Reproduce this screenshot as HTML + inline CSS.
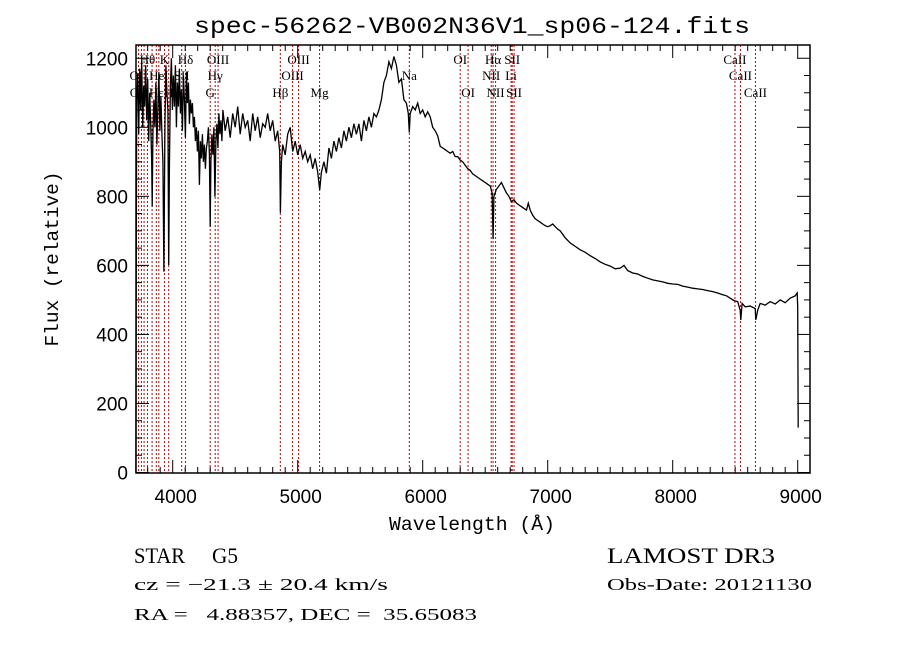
<!DOCTYPE html>
<html><head><meta charset="utf-8"><style>
html,body{margin:0;padding:0;background:#fff;}
svg{display:block;}
text{font-family:"Liberation Sans",sans-serif;fill:#000;}
.serif{font-family:"Liberation Serif",serif;}
.mono{font-family:"Liberation Mono",monospace;}
</style></head><body>
<svg id="chart" width="900" height="649" viewBox="0 0 900 649" xmlns="http://www.w3.org/2000/svg">
<rect width="900" height="649" fill="#fff"/>
<text class="mono" x="472" y="33" font-size="23" text-anchor="middle" textLength="556" lengthAdjust="spacingAndGlyphs">spec-56262-VB002N36V1_sp06-124.fits</text>
<g id="lines"></g>
<g id="labels"></g>
<g id="spec"></g>
<g id="axes"></g>
<text class="mono" x="472" y="530" font-size="19" text-anchor="middle" textLength="166" lengthAdjust="spacingAndGlyphs">Wavelength (Å)</text>
<text class="mono" transform="translate(58,259) rotate(-90)" font-size="19" text-anchor="middle" textLength="175" lengthAdjust="spacingAndGlyphs">Flux (relative)</text>
<text class="serif" x="134" y="563" font-size="22" textLength="51" lengthAdjust="spacingAndGlyphs">STAR</text>
<text class="serif" x="212" y="563" font-size="22" textLength="26" lengthAdjust="spacingAndGlyphs">G5</text>
<text class="serif" x="607" y="563" font-size="22" textLength="168" lengthAdjust="spacingAndGlyphs">LAMOST DR3</text>
<text class="serif" x="134" y="590" font-size="17" textLength="254" lengthAdjust="spacingAndGlyphs">cz = −21.3 ± 20.4 km/s</text>
<text class="serif" x="607" y="590" font-size="17" textLength="205" lengthAdjust="spacingAndGlyphs">Obs-Date: 20121130</text>
<text class="serif" x="134" y="620" font-size="17" textLength="343" lengthAdjust="spacingAndGlyphs" xml:space="preserve">RA =   4.88357, DEC =  35.65083</text>
</svg>
<script>
const wavelengths=[3706,3708,3712,3720,3728,3736,3744,3752,3760,3768,3776,3784,3792,3800,3808,3816,3824,3832,3836,3842,3850,3858,3866,3874,3882,3890,3898,3906,3914,3922,3930,3938,3946,3954,3962,3968,3974,3982,3990,3998,4006,4014,4022,4030,4038,4046,4054,4062,4070,4078,4086,4094,4102,4110,4118,4126,4134,4142,4150,4158,4166,4174,4182,4190,4198,4206,4214,4222,4230,4238,4246,4254,4262,4270,4278,4286,4294,4300,4306,4314,4322,4330,4338,4346,4354,4362,4370,4378,4386,4394,4402,4420,4440,4460,4480,4500,4520,4540,4560,4580,4600,4620,4640,4660,4680,4700,4720,4740,4760,4780,4800,4820,4840,4856,4862,4870,4880,4900,4920,4940,4960,4980,5000,5020,5040,5060,5080,5100,5120,5140,5160,5176,5190,5210,5230,5250,5270,5290,5310,5330,5350,5370,5390,5410,5430,5450,5470,5490,5510,5530,5550,5570,5590,5610,5630,5650,5670,5690,5710,5730,5750,5770,5790,5810,5830,5850,5870,5885,5893,5900,5920,5940,5960,5980,6000,6020,6040,6060,6080,6100,6120,6140,6160,6180,6200,6220,6240,6260,6280,6300,6320,6340,6360,6380,6400,6420,6440,6460,6480,6500,6520,6540,6555,6563,6570,6590,6610,6630,6650,6670,6690,6710,6730,6750,6770,6790,6810,6830,6845,6860,6880,6900,6920,6940,6960,6980,7000,7020,7040,7060,7080,7100,7140,7180,7220,7260,7300,7340,7380,7420,7460,7500,7540,7580,7610,7640,7680,7720,7760,7800,7840,7880,7920,7960,8000,8040,8080,8120,8160,8200,8240,8280,8320,8360,8400,8430,8460,8490,8520,8540,8545,8555,8580,8620,8660,8665,8680,8700,8740,8780,8820,8860,8900,8940,8980,8996,9000,9004];
const fluxes=[0,520,1080,1150,980,1170,1050,1190,1000,1120,1060,1180,1020,1140,960,1100,1010,900,770,980,1080,1000,1130,950,1060,1160,990,1090,980,900,582,1000,1180,1100,1050,601,880,1120,1200,1050,1150,1060,1180,1000,1130,1060,1170,1040,1110,990,1150,1080,970,1160,1070,1130,1010,1080,1040,1070,1000,1030,960,1000,930,990,833,960,910,980,900,950,880,940,960,1000,920,712,900,980,920,1000,799,960,1010,940,1040,980,1020,960,1050,990,1030,970,1040,1000,1060,980,1040,1000,1020,960,1040,990,1030,970,1010,1000,1040,990,1020,960,990,930,752,900,950,920,980,1000,930,960,920,950,910,930,900,920,880,910,870,818,870,900,867,940,910,960,930,970,940,990,960,1000,970,1010,980,1010,960,1020,990,1030,1000,1040,1030,1050,1080,1130,1150,1190,1170,1205,1180,1130,1140,1080,1070,1040,985,1040,1060,1050,1070,1040,1050,1030,1045,1030,1000,990,975,945,940,935,930,925,930,915,915,905,900,890,880,875,865,860,855,850,845,840,835,830,810,676,800,820,830,840,825,810,800,785,790,780,775,770,765,760,780,760,745,735,730,725,720,715,712,715,720,712,705,700,680,665,655,645,638,628,620,610,603,598,590,592,600,585,578,575,568,563,558,555,552,548,546,545,540,537,534,532,530,527,524,520,515,512,505,498,495,470,442,490,480,482,475,442,470,490,485,495,488,500,492,505,512,520,480,130];
const lineWaves=[3727,3750,3771,3798,3835,3869,3889,3934,3968,4072,4102,4300,4340,4363,4861,4959,5007,5175,5893,6300,6363,6548,6563,6583,6707,6716,6731,8498,8542,8662];
const labelTexts=["Hθ","K","Hδ","OIII","OIII","OI","Hα","SII","CaII","OII","HeI","SII","Hγ","OIII","Na","NII","Li","CaII","OII","Hε","H","G","Hβ","Mg","OI","NII","SII","CaII"];
const labelWaves=[3798,3934,4102,4363,5007,6300,6563,6716,8498,3727,3889,4072,4340,4959,5893,6548,6707,8542,3729,3869,3968,4300,4861,5175,6363,6583,6731,8662];
const labelRows=[0,0,0,0,0,0,0,0,0,1,1,1,1,1,1,1,1,1,2,2,2,2,2,2,2,2,2,2];
const xTicks=[4000,5000,6000,7000,8000,9000];
const yTicks=[0,200,400,600,800,1000,1200];

const L=136,R=810,T=45,B=473;
function xs(w){return 172.7+(w-4000)*0.125;}
function ys(v){return 472.5-v*0.3452;}
const NS="http://www.w3.org/2000/svg";
function mk(tag,parent,attrs){const e=document.createElementNS(NS,tag);for(const k in attrs)e.setAttribute(k,attrs[k]);parent.appendChild(e);return e;}

const gl=document.getElementById('lines');
lineWaves.forEach(w=>{
  const l=mk('line',gl,{x1:xs(w),x2:xs(w),y1:T,y2:B,stroke:'#c00000','stroke-width':1,'stroke-dasharray':'2,2'});
  
  
});
const glb=document.getElementById('labels');
const rowY=[64,80,97];
labelTexts.forEach((t,i)=>{
  const e=mk('text',glb,{x:xs(labelWaves[i]),y:rowY[labelRows[i]],'font-size':13,'text-anchor':'middle','class':'serif'});
  e.textContent=t;
  
  
});

const gs=document.getElementById('spec');
let d='';
wavelengths.forEach((w,i)=>{d+=(i?'L':'M')+xs(w).toFixed(1)+','+ys(fluxes[i]).toFixed(1);});
const p=mk('path',gs,{d:d,fill:'none',stroke:'#000','stroke-width':1.3,'stroke-linejoin':'miter'});



const ga=document.getElementById('axes');
const fr=mk('rect',ga,{x:L,y:T,width:R-L,height:B-T,fill:'none',stroke:'#000','stroke-width':1.5});


for(let w=3800;w<=9000;w+=100){
  const x=xs(w);const major=(w%1000===0);const len=major?13:6;
  mk('line',ga,{x1:x,x2:x,y1:B,y2:B-len,stroke:'#000','stroke-width':1});
  mk('line',ga,{x1:x,x2:x,y1:T,y2:T+len,stroke:'#000','stroke-width':1});
}
for(let v=0;v<=1200;v+=50){
  const y=ys(v);const major=(v%200===0);const len=major?13:6;
  mk('line',ga,{x1:L,x2:L+len,y1:y,y2:y,stroke:'#000','stroke-width':1});
  mk('line',ga,{x1:R,x2:R-len,y1:y,y2:y,stroke:'#000','stroke-width':1});
}
xTicks.forEach(w=>{
  const t=mk('text',ga,{x:xs(w)+3,y:503,'font-size':19,'text-anchor':'middle'});
  t.textContent=w;
  
  
});
yTicks.forEach(v=>{
  const t=mk('text',ga,{x:128,y:ys(v)+7,'font-size':19,'text-anchor':'end'});
  t.textContent=v;
  
  
});
</script>
</body></html>
